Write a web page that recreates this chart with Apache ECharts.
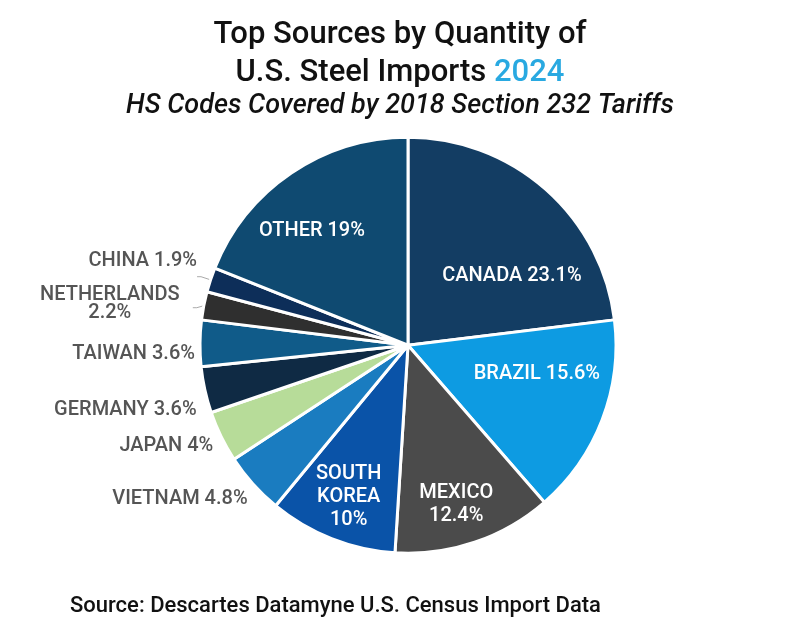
<!DOCTYPE html>
<html>
<head>
<meta charset="utf-8">
<script src="https://cdn.jsdelivr.net/npm/echarts@6.0.0/dist/echarts.min.js"></script>
<style>
html, body { margin: 0; background: #fff; }
#chart { width: 800px; height: 630px; }
</style>
</head>
<body>
<div id="chart"></div>
<script>
// share of 2024 U.S. steel import quantity, clockwise from 12 o'clock
var countries = ['CANADA', 'BRAZIL', 'MEXICO', 'SOUTH KOREA', 'VIETNAM', 'JAPAN',
	'GERMANY', 'TAIWAN', 'NETHERLANDS', 'CHINA', 'OTHER'];
var shares = [23.1, 15.6, 12.4, 10, 4.8, 4, 3.6, 3.6, 2.2, 1.9, 19];

var palette = ['#133d63', '#0d9be2', '#4b4b4b', '#0a53a8', '#1a7cc0', '#b7dc99',
	'#0f2a44', '#105b89', '#2f2f2f', '#0d2e59', '#0f4a71'];

// big slices carry their label inside, small ones outside
var insideNames = ['CANADA', 'BRAZIL', 'MEXICO', 'SOUTH KOREA', 'OTHER'];
var brokenNames = ['MEXICO', 'SOUTH KOREA', 'NETHERLANDS'];
var linedNames = ['NETHERLANDS', 'CHINA'];
// small nudges of the labels away from where the pie puts them
var labelNudge = {
	'CANADA': [33, 11], 'BRAZIL': [29, -10], 'MEXICO': [14, 58], 'SOUTH KOREA': [-20, 52], 'OTHER': [-36, -26],
	'VIETNAM': [11, 8], 'JAPAN': [7, 5], 'GERMANY': [6, 18], 'TAIWAN': [9, 11],
	'NETHERLANDS': [-6, -4], 'CHINA': [5, -16]
};

function labelText(name, value) {
	if (brokenNames.indexOf(name) < 0) return name + ' ' + value + '%';
	if (name === 'NETHERLANDS') return '{w|' + name + '}\n{w|' + value + '%}';
	return name.split(' ').join('\n') + '\n' + value + '%';
}

var chartData = countries.map(function (name, i) {
	var inside = insideNames.indexOf(name) >= 0;
	return {
		name: name,
		value: shares[i],
		itemStyle: { color: palette[i] },
		label: inside ? {
			position: 'inside',
			color: '#fff',
			lineHeight: 23
		} : {
			position: 'outside',
			color: '#555',
			lineHeight: 17
		},
		labelLine: { show: linedNames.indexOf(name) >= 0 }
	};
});

var myChart = echarts.init(document.getElementById('chart'));

var option = {
	backgroundColor: '#fff',
	textStyle: { fontFamily: 'Roboto' },
	title: [{
		text: 'Top Sources by Quantity of\nU.S. Steel Imports {y|2024}',
		subtext: 'HS Codes Covered by 2018 Section 232 Tariffs',
		left: 'center',
		top: 11,
		itemGap: 1,
		textStyle: {
			fontFamily: 'Roboto',
			fontSize: 31,
			fontWeight: 500,
			color: '#111',
			lineHeight: 38,
			rich: { y: { fontFamily: 'Roboto', fontSize: 31, fontWeight: 500, color: '#29a9e1', lineHeight: 38 } }
		},
		subtextStyle: {
			fontFamily: 'Roboto',
			fontSize: 27,
			fontStyle: 'italic',
			fontWeight: 500,
			color: '#111'
		}
	}, {
		text: 'Source: Descartes Datamyne U.S. Census Import Data',
		left: 65,
		top: 590,
		textStyle: { fontFamily: 'Roboto', fontSize: 22, fontWeight: 500, color: '#111' }
	}],
	series: [{
		type: 'pie',
		center: ['51%', '54.8%'],
		radius: 208,
		startAngle: 90,
		clockwise: true,
		avoidLabelOverlap: true,
		data: chartData,
		itemStyle: { borderColor: '#fff', borderWidth: 3 },
		label: {
			fontFamily: 'Roboto',
			fontSize: 20,
			fontWeight: 500,
			formatter: function (p) { return labelText(p.name, p.value); },
			rich: { w: { width: 144, align: 'center', fontSize: 20, fontWeight: 500, color: '#555', lineHeight: 18 } }
		},
		labelLine: {
			length: 10,
			length2: 4,
			lineStyle: { color: '#aaa', width: 1 }
		},
		emphasis: { disabled: true },
		labelLayout: function (p) {
			var nudge = labelNudge[countries[p.dataIndex]];
			if (!nudge) return {};
			return { dx: nudge[0], dy: nudge[1] };
		}
	}]
};

myChart.setOption(option);
</script>
</body>
</html>
